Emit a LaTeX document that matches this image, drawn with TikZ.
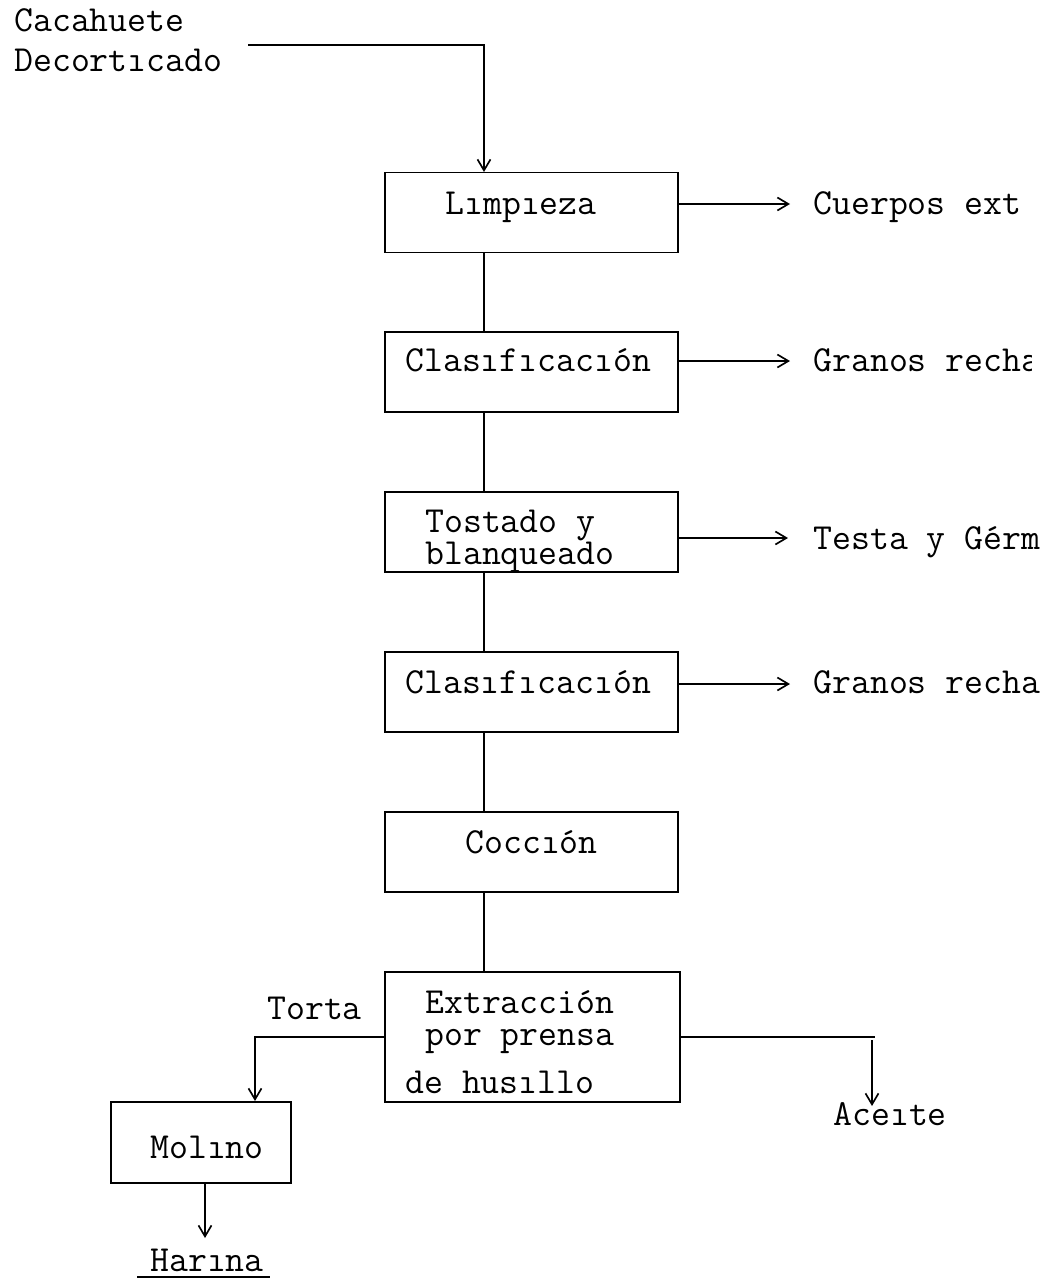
\documentclass[tikz,border=0pt]{standalone}
\usepackage{fontspec}
\usetikzlibrary{arrows.meta}
\tikzset{
  box/.style={draw, line width=1.1pt, rectangle, inner sep=0pt},
  txt/.style={font=\ttfamily\fontsize{20.9}{18.1}\selectfont, inner sep=0pt, anchor=base west, align=left},
  link/.style={line width=0.95pt},
  flow/.style={line width=0.95pt, -{Straight Barb[length=2.2mm,width=2.6mm,line width=0.95pt]}},
}
\begin{document}
\begin{tikzpicture}[x=0.02cm, y=-0.02cm]
\useasboundingbox (0,0) rectangle (1054,1278);
\clip (0,0) rectangle (1054,1278);

% process boxes
\node[box, minimum width=5.86cm, minimum height=1.6cm] (limp) at (531.5,212.5) {};
\node[box, minimum width=5.86cm, minimum height=1.6cm] (clas1) at (531.5,372) {};
\node[box, minimum width=5.86cm, minimum height=1.6cm] (tost) at (531.5,532) {};
\node[box, minimum width=5.86cm, minimum height=1.6cm] (clas2) at (531.5,692) {};
\node[box, minimum width=5.86cm, minimum height=1.6cm] (cocc) at (531.5,852) {};
\node[box, minimum width=5.9cm, minimum height=2.6cm] (extr) at (532.5,1037) {};
\node[box, minimum width=3.6cm, minimum height=1.62cm] (moli) at (201,1142.5) {};

% box texts (multi-line nodes are placed by the baseline of their last line)
\node[txt] (tlimp) at (445,214) {Lımpıeza};
\node[txt] (tclas1) at (405,371) {Clasıfıcacıón};
\node[txt] (ttost) at (425,564) {Tostado y\\blanqueado};
\node[txt] (tclas2) at (405,693) {Clasıfıcacıón};
\node[txt] (tcocc) at (465,853) {Coccıón};
\node[txt] (textr) at (425,1045) {Extracción\\por prensa};
\node[txt] (textr3) at (405,1093) {de husıllo};
\node[txt] (tmoli) at (150,1158) {Molıno};

% inputs and outputs
\node[txt] (in) at (14,71) {Cacahuete\\[4.6pt]Decortıcado};
\coordinate (inend) at (248,45);
\node[txt] (o1) at (813,214) {Cuerpos ext};
\begin{scope}
  \clip (800,330) rectangle (1031,400);
  \node[txt] (o2) at (813,371) {Granos recha};
\end{scope}
\begin{scope}
  \clip (800,500) rectangle (1040,720);
  \node[txt] (o3) at (813,549) {Testa y Gérm};
  \node[txt] (o4) at (813,693) {Granos recha};
\end{scope}
\node[txt] (torta) at (267,1019) {Torta};
\node[txt] (aceite) at (833,1125) {Aceıte};
\node[txt] (harina) at (150,1271) {Harına};
\draw[line width=0.95pt] (137,1277) -- (270,1277);

% main line
\draw[flow] (inend) -- (484,45) -- (484,172);
\draw[link] (limp.south -| 484,0) -- (clas1.north -| 484,0);
\draw[link] (clas1.south -| 484,0) -- (tost.north -| 484,0);
\draw[link] (tost.south -| 484,0) -- (clas2.north -| 484,0);
\draw[link] (clas2.south -| 484,0) -- (cocc.north -| 484,0);
\draw[link] (cocc.south -| 484,0) -- (extr.north -| 484,0);

% side streams
\coordinate (a1) at (790,204);
\coordinate (a2) at (790,361);
\coordinate (a3) at (788,538);
\coordinate (a4) at (790,684);
\draw[flow] (limp.east |- a1) -- (a1);
\draw[flow] (clas1.east |- a2) -- (a2);
\draw[flow] (tost.east |- a3) -- (a3);
\draw[flow] (clas2.east |- a4) -- (a4);

% press outputs
\draw[flow] (extr.west) -- (255,1037) -- (255,1101);
\draw[link] (extr.east) -- (875,1037);
\draw[flow] (872,1040) -- (872,1106);
\draw[flow] (205,1183) -- (205,1238);
\end{tikzpicture}
\end{document}
